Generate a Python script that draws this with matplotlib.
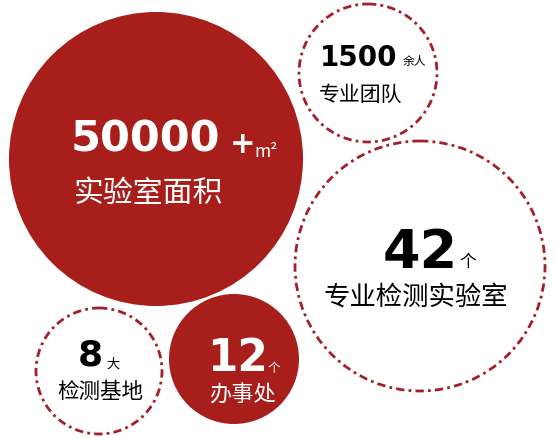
import matplotlib.pyplot as plt
from matplotlib.patches import Circle

plt.rcParams['font.family'] = ['Noto Sans CJK SC', 'DejaVu Sans']

# chart content
numbers = ["50000", "1500", "42", "8", "12"]
units = ["+", "余人", "个", "大", "个"]
labels = ["实验室面积", "专业团队", "专业检测实验室", "检测基地", "办事处"]
filled = [True, False, False, False, True]

# layout (pixels, y from top): circle centre/radius, number x/baseline, label x/baseline
circles = [(156, 160, 147), (368, 74, 69), (420, 267, 125), (99, 372, 63), (234, 360, 65)]
num_pos = [(71, 152), (320, 66), (383, 268), (78, 366), (207, 371)]
num_size = [31, 20, 39, 26, 31.5]
unit_pos = [(230, 153), (403, 65), (459, 267), (106, 368), (268, 372)]
unit_size = [22, 8.5, 12, 9.5, 9]
lab_pos = [(74, 202), (319, 101), (324, 305), (57, 398), (209, 402)]
lab_size = [21.5, 15, 19, 15.5, 16]

RED = "#a81e1b"
DASH = "#a3202b"

fig = plt.figure(figsize=(5.55, 4.39), dpi=100)
ax = fig.add_axes([0, 0, 1, 1])
ax.set_xlim(0, 555)
ax.set_ylim(439, 0)
ax.set_aspect('equal')
ax.axis('off')

for i, (cx, cy, r) in enumerate(circles):
    if filled[i]:
        ax.add_patch(Circle((cx, cy), r, facecolor=RED, edgecolor='none'))
        col = 'white'
    else:
        ax.add_patch(Circle((cx, cy), r, facecolor='none', edgecolor=DASH,
                            lw=2, linestyle=(0, (3, 1.5, 1, 1.5))))
        col = 'black'
    ax.text(num_pos[i][0], num_pos[i][1], numbers[i], color=col, fontsize=num_size[i],
            fontweight='bold', family=['DejaVu Sans'], va='baseline', ha='left')
    if units[i] == "+":
        ax.text(unit_pos[i][0], unit_pos[i][1], units[i], color=col, fontsize=unit_size[i],
                fontweight='bold', family=['DejaVu Sans'], va='baseline', ha='left')
    else:
        ax.text(unit_pos[i][0], unit_pos[i][1], units[i], color=col, fontsize=unit_size[i],
                va='baseline', ha='left')
    ax.text(lab_pos[i][0], lab_pos[i][1], labels[i], color=col, fontsize=lab_size[i],
            va='baseline', ha='left')

# square metre mark after the plus sign
ax.text(254, 157, "m²", color='white', fontsize=12.5, va='baseline', ha='left')

fig.savefig('out.png', dpi=100)
